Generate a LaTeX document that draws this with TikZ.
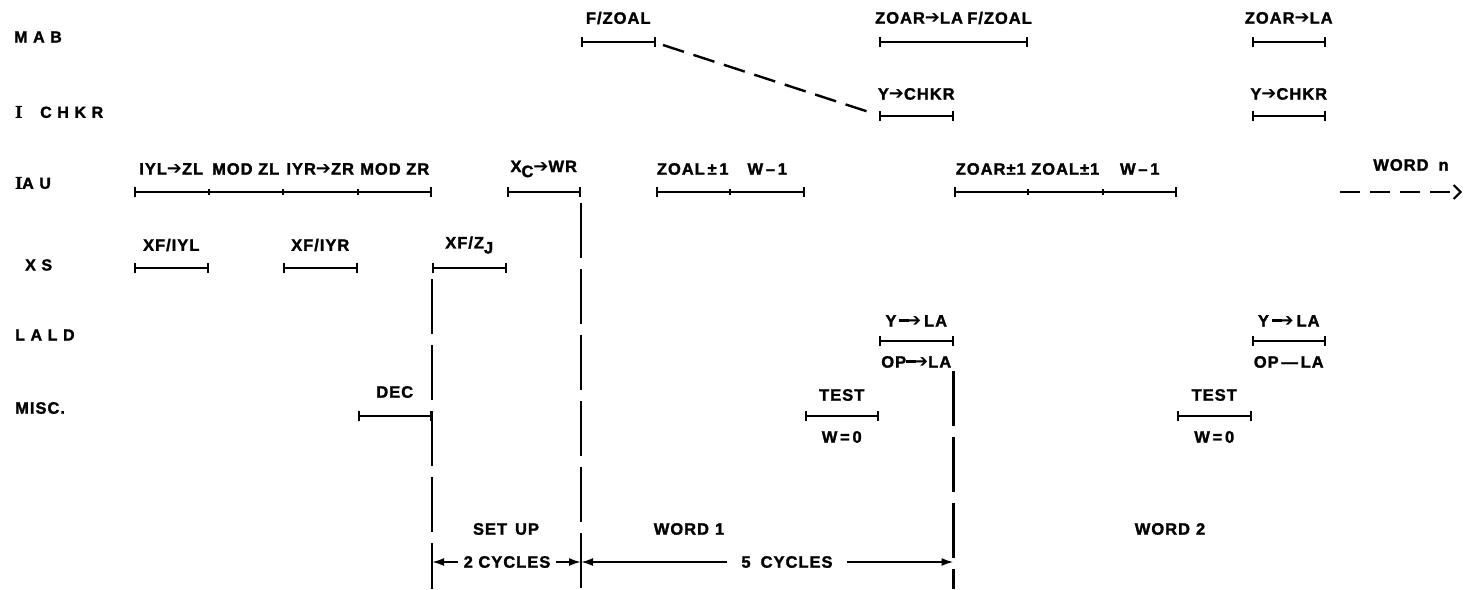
\documentclass[tikz,border=0pt]{standalone}
\usepackage{fontspec}
\setmainfont{Liberation Sans}[LetterSpace=6,BoldFeatures={FakeBold=1.6}]
\newfontfamily\dv{DejaVu Sans}
\newfontfamily\serI{Liberation Serif}[BoldFeatures={FakeBold=1.6}]
\usetikzlibrary{arrows.meta}
\newcommand\rar{{\dv\fontsize{18}{18}\selectfont\raisebox{-0.3pt}{➔}}}
\newcommand\lrar{\rule[5pt]{10pt}{2.4pt}\kern-3pt\rar}
\newcommand\sub[1]{\raisebox{-5pt}{#1}}
\newcommand\cyc[1]{134+74.5*#1}
\newcommand\bigI{{\serI\bfseries\fontsize{18}{18}\selectfont I}}
\tikzset{
  txt/.style={font=\bfseries\fontsize{16.5}{18}\selectfont, inner sep=0pt},
  lab/.style={font=\bfseries\fontsize{16}{18}\selectfont\addfontfeature{LetterSpace=35}, inner sep=0pt, anchor=west},
  barline/.style={line width=2pt, {Bar[width=10pt,line width=2pt]}-{Bar[width=10pt,line width=2pt]}},
  tickline/.style={line width=2pt},
  vdash/.style={line width=2.4pt, dash pattern=on 55pt off 11pt},
  conn/.style={line width=2.4pt, dash pattern=on 22pt off 10pt},
  dimarrow/.style={line width=2pt, -{Latex[length=12pt,width=8pt]}},
  opendash/.style={line width=2pt, dash pattern=on 20pt off 10pt, -{Straight Barb[length=7pt,width=14pt,line width=2pt]}}
}
\newcommand\tbar[3]{\draw[barline] ({\cyc{#2}},#1) -- ({\cyc{#3}},#1);}
\newcommand\ttick[2]{\draw[tickline] ({\cyc{#2}},{#1-3}) -- ({\cyc{#2}},{#1+3});}
\begin{document}
\begin{tikzpicture}[x=1pt,y=-1pt]
\useasboundingbox (0,0) rectangle (1474,589);

% row labels
\node[lab] (lMAB) at (14,37) {MAB};
\node[lab] (lCHKR) at (15,112) {\bigI\hspace{18pt}CHKR};
\node[lab] (lIAU) at (15,183) {\bigI AU};
\node[lab] (lXS) at (25,265) {XS};
\node[lab] (lLALD) at (15,335) {LALD};
\node[txt, anchor=west] (lMISC) at (15,408) {MISC.};

% MAB row
\tbar{42}{6}{7}
\node[txt] (t1) at ({\cyc{6.5}},18) {F/ZOAL};
\tbar{42}{10}{12}
\node[txt, anchor=west] (t2) at (875,18) {ZOAR\rar LA};
\node[txt, anchor=east] (t3) at (1032,18) {F/ZOAL};
\tbar{42}{15}{16}
\node[txt] (t4) at ({\cyc{15.5}},18) {ZOAR\rar LA};

% I CHKR row
\tbar{116}{10}{11}
\node[txt] (t5) at ({\cyc{10.5}},94) {Y\rar CHKR};
\tbar{116}{15}{16}
\node[txt] (t6) at ({\cyc{15.5}},94) {Y\rar CHKR};

% connector
\coordinate (fzEnd) at (663,45);
\coordinate (ycStart) at (872,113);
\draw[conn] (fzEnd) -- (ycStart);

% IAU row
\tbar{192}{0}{4}
\ttick{192}{1}\ttick{192}{2}\ttick{192}{3}
\node[txt] (a1) at ({\cyc{0.5}},169) {IYL\rar ZL};
\node[txt] (a2) at ({\cyc{1.5}},169) {MOD ZL};
\node[txt] (a3) at ({\cyc{2.5}},169) {IYR\rar ZR};
\node[txt] (a4) at ({\cyc{3.5}},169) {MOD ZR};
\tbar{192}{5}{6}
\node[txt] (a5) at ({\cyc{5.5}},169) {X\sub{C}\rar WR};
\tbar{192}{7}{9}
\ttick{192}{8}
\node[txt] (a6) at ({\cyc{7.5}},169) {ZOAL\,±\,1};
\node[txt] (a7) at ({\cyc{8.5}},169) {W\,–\,1};
\tbar{192}{11}{14}
\ttick{192}{12}\ttick{192}{13}
\node[txt] (a8) at ({\cyc{11.5}},169) {ZOAR±1};
\node[txt] (a9) at ({\cyc{12.5}},169) {ZOAL±1};
\node[txt] (a10) at ({\cyc{13.5}},169) {W\,–\,1};
\node[txt] (wn) at (1411,165) {WORD\hspace{10pt}n};
\coordinate (wnA) at (1340,192);
\coordinate (wnB) at (1462,192);
\draw[opendash] (wnA) -- (wnB);

% XS row
\tbar{268}{0}{1}
\node[txt] (x1) at ({\cyc{0.5}},245) {XF/IYL};
\tbar{268}{2}{3}
\node[txt] (x2) at ({\cyc{2.5}},245) {XF/IYR};
\tbar{268}{4}{5}
\node[txt] (x3) at ({\cyc{4.5}},245) {XF/Z\sub{J}};

% LALD row
\tbar{341}{10}{11}
\node[txt] (l1) at ({\cyc{10.5}},321) {Y\,\lrar\,LA};
\node[txt] (l2) at ({\cyc{10.5}},362) {OP\lrar LA};
\tbar{341}{15}{16}
\node[txt] (l3) at ({\cyc{15.5}},321) {Y\,\lrar\,LA};
\node[txt] (l4) at ({\cyc{15.5}},362) {OP\,—\,LA};

% MISC row
\tbar{416}{3}{4}
\node[txt] (m1) at ({\cyc{3.5}},392) {DEC};
\tbar{416}{9}{10}
\node[txt] (m2) at ({\cyc{9.5}},395) {TEST};
\node[txt] (m3) at ({\cyc{9.5}},437) {W\,=\,0};
\tbar{416}{14}{15}
\node[txt] (m4) at ({\cyc{14.5}},395) {TEST};
\node[txt] (m5) at ({\cyc{14.5}},437) {W\,=\,0};

% vertical dashed lines
\coordinate (v1t) at (432,279);
\coordinate (v1b) at (432,589);
\coordinate (v2t) at (581,203);
\coordinate (v2b) at (581,589);
\coordinate (v3t) at (953.5,371);
\coordinate (v3b) at (953.5,589);
\draw[vdash] (v1t) -- (v1b);
\draw[vdash] (v2t) -- (v2b);
\draw[vdash] (v3t) -- (v3b);

% bottom labels
\node[txt] (su) at (506,529) {SET\hspace{8pt}UP};
\node[txt] (w1) at (689,529) {WORD\hspace{6pt}1};
\node[txt] (w2) at (1170,529) {WORD\hspace{6pt}2};
\coordinate (d1) at (432,562);
\coordinate (d2) at (581,562);
\coordinate (d3) at (953.5,562);
\node[txt, inner xsep=5pt] (c2) at (507,562) {2 CYCLES};
\node[txt, inner xsep=14pt] (c5) at (787,562) {5\hspace{10pt}CYCLES};
\draw[dimarrow] (c2.west) -- (d1);
\draw[dimarrow] (c2.east) -- (d2);
\draw[dimarrow] (c5.west) -- (d2);
\draw[dimarrow] (c5.east) -- (d3);
\end{tikzpicture}
\end{document}
